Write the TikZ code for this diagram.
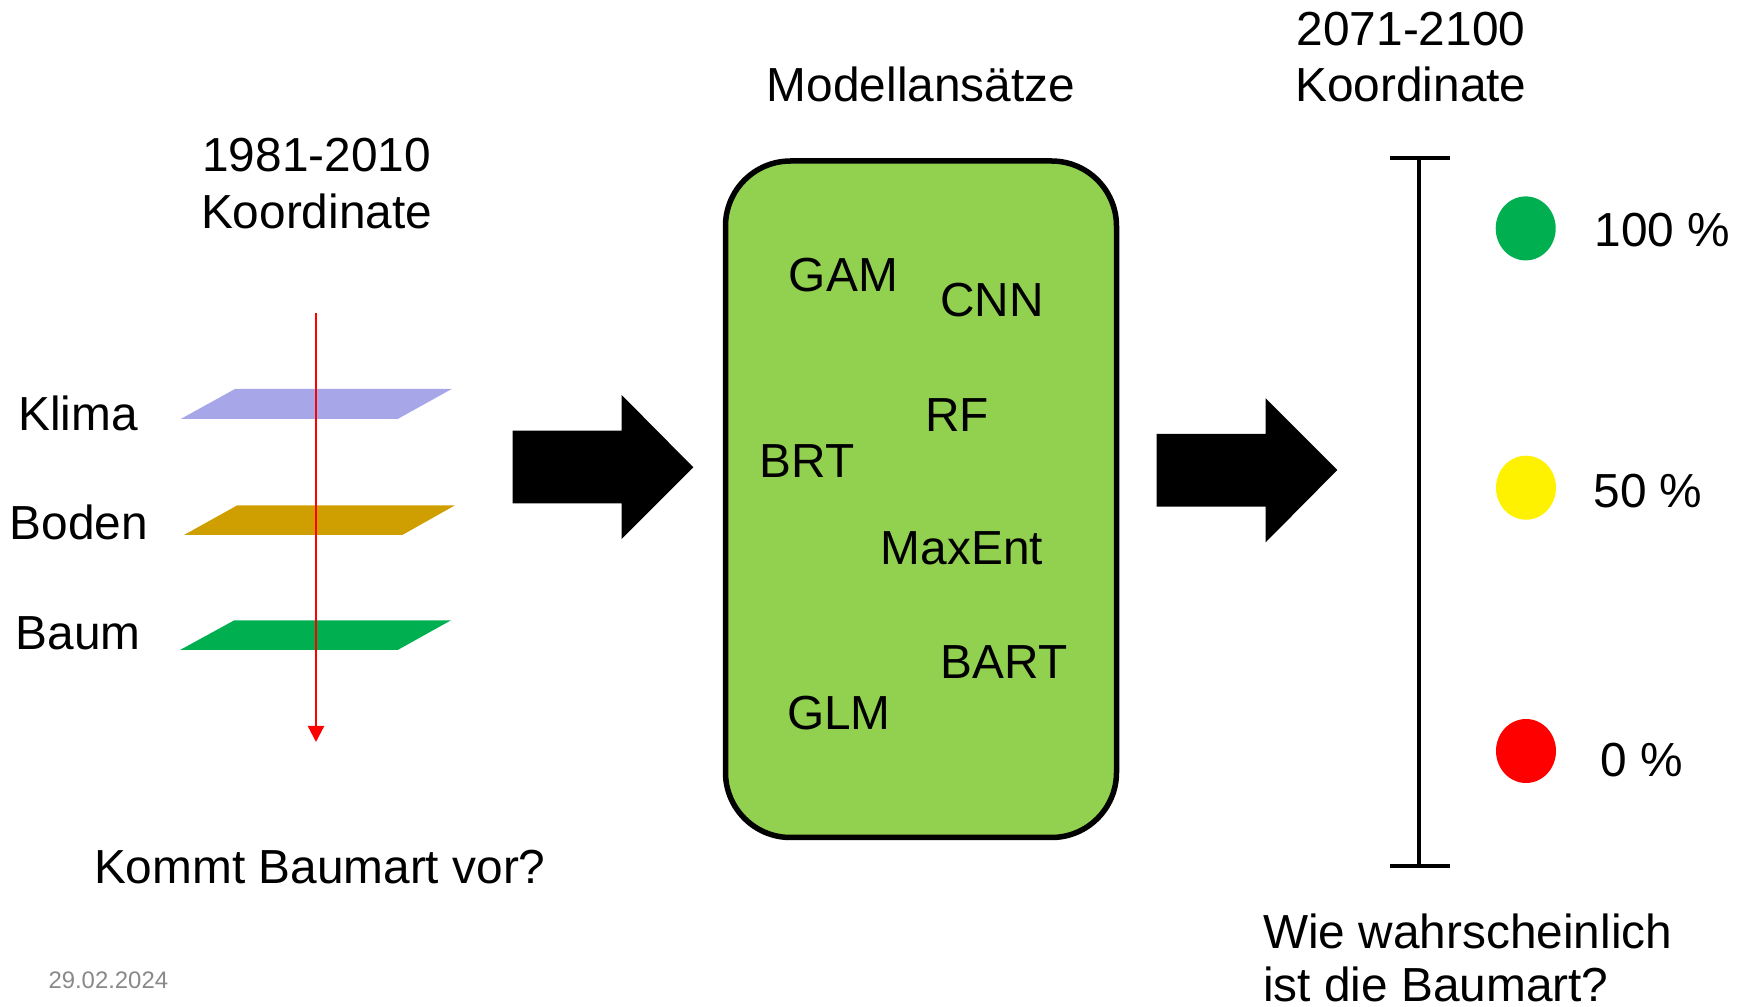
\documentclass[tikz,border=0pt]{standalone}
\usepackage{fontspec}
\setmainfont{Liberation Sans}
\usetikzlibrary{arrows.meta,shapes.geometric}
\definecolor{klimac}{RGB}{166,166,232}
\definecolor{bodenc}{RGB}{207,158,0}
\definecolor{baumc}{RGB}{0,176,80}
\definecolor{boxc}{RGB}{146,208,80}
\definecolor{datec}{RGB}{137,137,137}
\newcommand\mainsz{\fontsize{13.6pt}{16.1pt}\selectfont}
\tikzset{
  lbl/.style={font=\mainsz, inner sep=0pt, anchor=base},
  two/.style={font=\mainsz, inner sep=0pt, align=center, anchor=base},
  plane/.style={draw=none},
  blockarrow/.style={fill=black, draw=none},
  dot/.style={ellipse, draw=none, minimum width=6mm, minimum height=6.4mm, inner sep=0pt},
  barline/.style={line width=0.4mm, black},
}
\begin{document}
\begin{tikzpicture}[x=0.1mm,y=-0.1mm]
\useasboundingbox (0,0) rectangle (1744,1007);
% left: planes
\fill[klimac] (235,389) -- (451.7,389) -- (397.7,419) -- (180.7,419) -- cycle;
\fill[bodenc] (237.3,505.3) -- (455,505.3) -- (402.3,535) -- (184,535) -- cycle;
\fill[baumc] (234.3,620.3) -- (451,620.3) -- (397.7,650) -- (180,650) -- cycle;
\coordinate (rtop) at (316,313);
\coordinate (rbot) at (316,742);
\draw[red, line width=0.65pt, -{Triangle[length=1.6mm,width=1.6mm]}] (rtop) -- (rbot);
\node[lbl] (klima) at (78,431) {Klima};
\node[lbl] (boden) at (79,540) {Boden};
\node[lbl] (baum) at (78,650) {Baum};
\node[two] (lefthead) at (316.6,228.3) {1981-2010\\Koordinate};
\node[lbl] (kommt) at (319.8,883.3) {Kommt Baumart vor?};
\node[inner sep=0pt, anchor=base west, font=\fontsize{6.8pt}{8pt}\selectfont, text=datec] (date) at (47.8,988.3) {29.02.2024};
% block arrows
\fill[black] (512.7,430.7) -- (621.7,430.7) -- (621.7,395) -- (693.3,467.3) -- (621.7,539) -- (621.7,503.3) -- (512.7,503.3) -- cycle;
\fill[black] (1156.7,434) -- (1265.7,434) -- (1265.7,398.3) -- (1337.3,470) -- (1265.7,542.3) -- (1265.7,506.7) -- (1156.7,506.7) -- cycle;
% model box
\draw[fill=boxc, line width=5.5*0.1mm, rounded corners=6.5mm] (725.5,161) rectangle (1116.5,837.5);
\node[lbl] (modhead) at (921,101.7) {Modellansätze};
\node[lbl] (gam) at (843.4,291.5) {GAM};
\node[lbl] (cnn) at (992,316.8) {CNN};
\node[lbl] (rf) at (956.9,431.5) {RF};
\node[lbl] (brt) at (806.9,477.5) {BRT};
\node[lbl] (maxent) at (961.9,564.7) {MaxEnt};
\node[lbl] (bart) at (1004,678.6) {BART};
\node[lbl] (glm) at (838.8,729.1) {GLM};
% right: scale bar
\node[two] (righthead) at (1411,101.7) {2071-2100\\Koordinate};
\coordinate (btop) at (1419.3,157.6);
\coordinate (bbot) at (1419.3,865.8);
\coordinate (btl) at (1390,157.6);
\coordinate (btr) at (1450,157.6);
\coordinate (bbl) at (1390,865.8);
\coordinate (bbr) at (1450,865.8);
\draw[barline] (btop) -- (bbot);
\draw[barline] (btl) -- (btr);
\draw[barline] (bbl) -- (bbr);
\node[dot, fill=baumc] (g) at (1525.7,228.4) {};
\node[dot, fill=yellow] (y) at (1526,487.7) {};
\node[dot, fill=red] (r) at (1526,751) {};
\node[lbl] (p100) at (1662.4,246.3) {100 \%};
\node[lbl] (p50) at (1647.9,508) {50 \%};
\node[lbl] (p0) at (1641.4,777) {0 \%};
\node[font=\fontsize{13.6pt}{15.2pt}\selectfont, inner sep=0pt, align=left, anchor=base west] (wie) at (1262.5,1001.7) {Wie wahrscheinlich\\ist die Baumart?};
\end{tikzpicture}
\end{document}
